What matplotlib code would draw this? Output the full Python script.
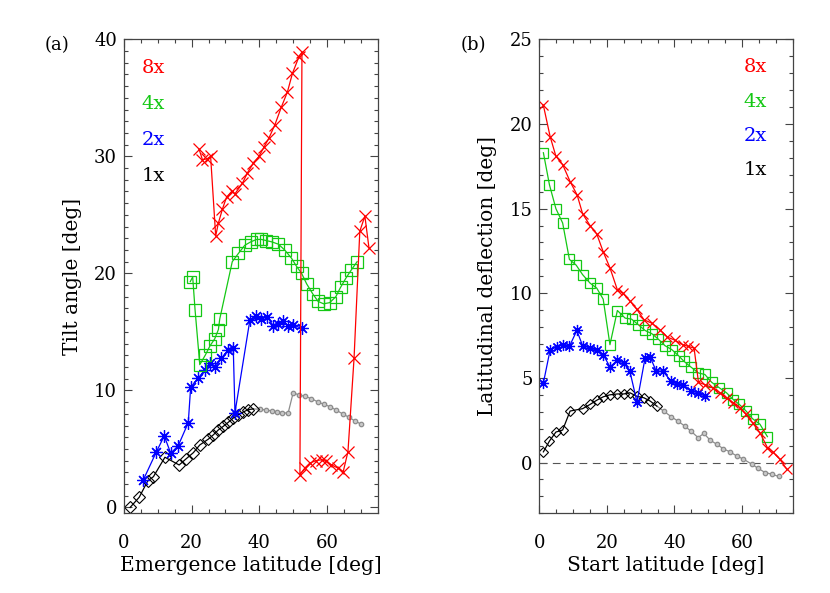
import numpy as np
import matplotlib
matplotlib.use("Agg")
import matplotlib.pyplot as plt
from matplotlib.ticker import MultipleLocator

plt.rcParams['font.family'] = ['DejaVu Serif']

# ---- panel (a): tilt angle vs emergence latitude ----
a8_lat = [22.2, 23.2, 24.6, 25.6, 27.1, 27.9, 29.1, 30.3, 31.8, 32.8, 35.0, 36.5, 38.2, 39.9,
          41.4, 42.9, 44.6, 46.5, 48.3, 49.8, 51.7, 52.6, 52.0, 53.4, 54.9, 56.7, 58.4, 59.8,
          61.3, 63.3, 64.8, 66.2, 68.0, 69.7, 71.2, 72.4]
a8_tilt = [30.6, 29.7, 29.8, 30.0, 23.2, 24.3, 25.5, 26.5, 27.0, 26.8, 27.7, 28.6, 29.4, 30.0,
           30.8, 31.6, 32.7, 34.2, 35.5, 37.1, 38.5, 38.9, 2.8, 3.35, 3.78, 4.0, 4.07, 3.93,
           3.65, 3.35, 3.06, 4.77, 12.75, 23.6, 24.9, 22.2]

a4_lat = [19.6, 20.3, 21.0, 22.4, 24.0, 25.4, 26.8, 27.9, 28.3, 32.0, 33.8, 35.7, 37.5, 39.2,
          40.6, 42.1, 43.6, 45.6, 47.5, 49.5, 51.0, 52.5, 54.0, 55.9, 57.4, 59.0, 60.8, 62.6,
          64.0, 65.6, 67.2, 68.9]
a4_tilt = [19.3, 19.7, 16.9, 12.2, 13.0, 13.8, 14.4, 15.2, 16.1, 21.0, 21.7, 22.4, 22.7, 22.9,
           22.9, 22.8, 22.7, 22.5, 22.0, 21.3, 20.6, 20.0, 19.1, 18.2, 17.6, 17.4, 17.5, 18.0,
           18.8, 19.6, 20.3, 21.0]

a2_lat = [5.7, 9.6, 11.9, 13.8, 16.0, 19.0, 19.7, 21.9, 23.9, 25.4, 26.9, 28.8, 30.8, 32.3,
          32.8, 37.2, 39.0, 40.6, 42.4, 44.1, 45.6, 47.1, 48.5, 50.0, 52.5]
a2_tilt = [2.35, 4.77, 6.11, 4.64, 5.26, 7.25, 10.27, 11.04, 11.75, 12.38, 11.98, 12.75, 13.46,
           13.6, 8.1, 16.0, 16.4, 16.1, 16.3, 15.5, 15.7, 15.9, 15.5, 15.6, 15.3]

a1_lat = [1.8, 4.5, 7.0, 8.7, 12.1, 16.3, 18.3, 20.5, 22.4, 24.9, 26.4, 27.9, 29.3, 30.8, 32.3,
          33.8, 35.1, 36.7, 38.2]
a1_tilt = [0.0, 0.87, 2.26, 2.63, 4.29, 3.63, 4.14, 4.68, 5.34, 5.83, 6.2, 6.63, 6.92, 7.27,
           7.64, 7.93, 8.13, 8.36, 8.42]
a1g_lat = [40.2, 41.9, 43.6, 45.1, 46.8, 48.5, 50.0, 51.8, 53.4, 55.4, 57.4, 59.2, 61.0, 62.8,
           64.6, 66.5, 68.2, 70.2]
a1g_tilt = [8.39, 8.33, 8.25, 8.19, 8.1, 8.05, 9.8, 9.6, 9.5, 9.3, 9.0, 8.8, 8.6, 8.3, 8.0,
            7.7, 7.4, 7.1]

# ---- panel (b): latitudinal deflection vs start latitude ----
b8_lat = [1.2, 3.2, 4.9, 6.9, 9.1, 11.2, 12.8, 15.0, 17.0, 18.9, 20.9, 23.1, 24.7, 26.7, 28.8,
          31.0, 33.3, 35.7, 37.9, 40.2, 42.4, 44.1, 45.8, 47.1, 49.0, 51.3, 53.5, 55.4, 57.4,
          59.4, 61.2, 63.1, 65.3, 67.5, 69.1, 71.2, 73.2]
b8_defl = [21.1, 19.25, 18.1, 17.6, 16.6, 15.8, 14.7, 14.0, 13.5, 12.45, 11.5, 10.2, 10.0, 9.57,
           9.06, 8.43, 8.23, 7.84, 7.41, 7.22, 6.96, 6.86, 6.76, 4.74, 4.6, 4.41, 4.12, 3.82,
           3.53, 3.24, 2.84, 2.35, 1.76, 0.88, 0.63, 0.19, -0.39]

b4_lat = [1.2, 3.0, 4.9, 6.9, 8.9, 10.9, 12.8, 15.0, 17.0, 18.9, 20.9, 23.1, 25.4, 27.3, 29.3,
          31.3, 33.3, 35.2, 37.2, 39.2, 41.2, 42.8, 44.8, 47.1, 49.0, 51.0, 53.3, 55.4, 57.4,
          59.2, 61.2, 63.1, 65.3, 67.5]
b4_defl = [18.3, 16.4, 15.0, 14.15, 12.0, 11.66, 11.1, 10.6, 10.3, 9.65, 6.96, 8.98, 8.53, 8.47,
           8.14, 7.8, 7.61, 7.29, 6.9, 6.67, 6.31, 5.98, 5.65, 5.29, 5.2, 4.74, 4.41, 4.12, 3.72,
           3.43, 3.04, 2.59, 2.26, 1.53]

b2_lat = [1.2, 3.2, 5.1, 6.9, 8.9, 11.1, 12.8, 15.0, 17.0, 18.9, 20.9, 23.1, 25.0, 26.8, 28.9,
          31.3, 32.8, 34.6, 36.6, 39.0, 40.7, 42.6, 45.0, 47.0, 48.9]
b2_defl = [4.7, 6.66, 6.82, 6.96, 6.86, 7.8, 6.9, 6.76, 6.63, 6.37, 5.65, 6.04, 5.88, 5.39, 3.57,
           6.18, 6.24, 5.39, 5.39, 4.8, 4.66, 4.6, 4.21, 4.12, 3.92]

b1_lat = [1.2, 3.0, 4.9, 6.9, 9.1, 12.8, 15.0, 17.0, 18.9, 20.9, 23.1, 25.0, 26.8, 28.8, 31.0,
          32.8, 34.8]
b1_defl = [0.63, 1.27, 1.8, 1.92, 3.04, 3.18, 3.43, 3.68, 3.88, 4.0, 4.05, 4.05, 4.12, 3.92,
           3.82, 3.63, 3.33]
b1g_lat = [36.8, 39.0, 41.0, 43.0, 44.9, 47.0, 48.7, 50.5, 52.5, 54.4, 56.4, 58.4, 60.4, 62.9,
           64.8, 66.8, 68.8, 70.8]
b1g_defl = [3.04, 2.71, 2.45, 2.16, 1.85, 1.47, 1.72, 1.33, 1.08, 0.82, 0.63, 0.39, 0.2, -0.1,
            -0.35, -0.59, -0.69, -0.82]

labels = ["8x", "4x", "2x", "1x"]
RED, GREEN, BLUE, GRAY = "#ff0000", "#14c814", "#0000ff", "#8c8c8c"
ASTER = (8, 2, 0)


def style_axes(ax):
    ax.set_xlim(0, 75)
    ax.xaxis.set_major_locator(MultipleLocator(20))
    ax.xaxis.set_minor_locator(MultipleLocator(5))
    ax.yaxis.set_minor_locator(MultipleLocator(1))
    ax.tick_params(which='both', direction='in', top=True, right=True,
                   labelsize=13, width=0.8, color='#444444')
    ax.tick_params(which='major', length=6)
    ax.tick_params(which='minor', length=3)
    ax.tick_params(axis='x', which='major', pad=15)
    ax.tick_params(axis='y', which='major', pad=5)
    for s in ax.spines.values():
        s.set_linewidth(0.9)
        s.set_color('#444444')


fig = plt.figure(figsize=(8.3, 5.93), dpi=100)

# (a)
ax1 = fig.add_axes([0.1494, 0.1344, 0.3057, 0.7993])
ax1.plot(a1_lat[-1:] + a1g_lat, a1_tilt[-1:] + a1g_tilt, '-', color=GRAY, lw=0.9)
ax1.plot(a1g_lat, a1g_tilt, 'o', color=GRAY, ms=3.2, mfc='#c8c8c8', mew=0.9)
ax1.plot(a1_lat, a1_tilt, '-D', color='black', ms=6, mfc='none', mew=0.8, lw=0.9)
ax1.plot(a2_lat, a2_tilt, '-', color=BLUE, marker=ASTER, ms=9, mew=0.9, lw=0.9)
ax1.plot(a4_lat, a4_tilt, '-s', color=GREEN, ms=9, mfc='none', mew=0.9, lw=0.9)
ax1.plot(a8_lat, a8_tilt, '-x', color=RED, ms=9, mew=0.9, lw=0.9)
ax1.set_ylim(-0.5, 40)
ax1.yaxis.set_major_locator(MultipleLocator(10))
style_axes(ax1)
ax1.set_xlabel("Emergence latitude [deg]", fontsize=14.5, labelpad=3)
ax1.set_ylabel("Tilt angle [deg]", fontsize=14.5, labelpad=9)
for lab, col, yy in zip(labels, [RED, GREEN, BLUE, 'black'], [0.94, 0.864, 0.788, 0.712]):
    ax1.text(0.07, yy, lab, color=col, fontsize=14, transform=ax1.transAxes,
             ha='left', va='center')
fig.text(57 / 830, 1 - 45 / 593, "(a)", fontsize=13, ha='center', va='center')

# (b)
ax2 = fig.add_axes([0.6498, 0.1344, 0.3053, 0.7993])
ax2.axhline(0, color='#555555', lw=0.8, ls=(0, (7, 5)))
ax2.plot(b1_lat[-1:] + b1g_lat, b1_defl[-1:] + b1g_defl, '-', color=GRAY, lw=0.9)
ax2.plot(b1g_lat, b1g_defl, 'o', color=GRAY, ms=3.2, mfc='#c8c8c8', mew=0.9)
ax2.plot(b1_lat, b1_defl, '-D', color='black', ms=5, mfc='none', mew=0.8, lw=0.9)
ax2.plot(b2_lat, b2_defl, '-', color=BLUE, marker=ASTER, ms=8, mew=0.9, lw=0.9)
ax2.plot(b4_lat, b4_defl, '-s', color=GREEN, ms=7, mfc='none', mew=0.9, lw=0.9)
ax2.plot(b8_lat, b8_defl, '-x', color=RED, ms=7, mew=0.9, lw=0.9)
ax2.set_ylim(-3, 25)
ax2.yaxis.set_major_locator(MultipleLocator(5))
style_axes(ax2)
ax2.set_xlabel("Start latitude [deg]", fontsize=14.5, labelpad=3)
ax2.set_ylabel("Latitudinal deflection [deg]", fontsize=14.5, labelpad=9)
for lab, col, yy in zip(labels, [RED, GREEN, BLUE, 'black'], [0.941, 0.868, 0.796, 0.724]):
    ax2.text(0.897, yy, lab, color=col, fontsize=14, transform=ax2.transAxes,
             ha='right', va='center')
fig.text(473 / 830, 1 - 45 / 593, "(b)", fontsize=13, ha='center', va='center')

fig.savefig("out.png", dpi=100)
